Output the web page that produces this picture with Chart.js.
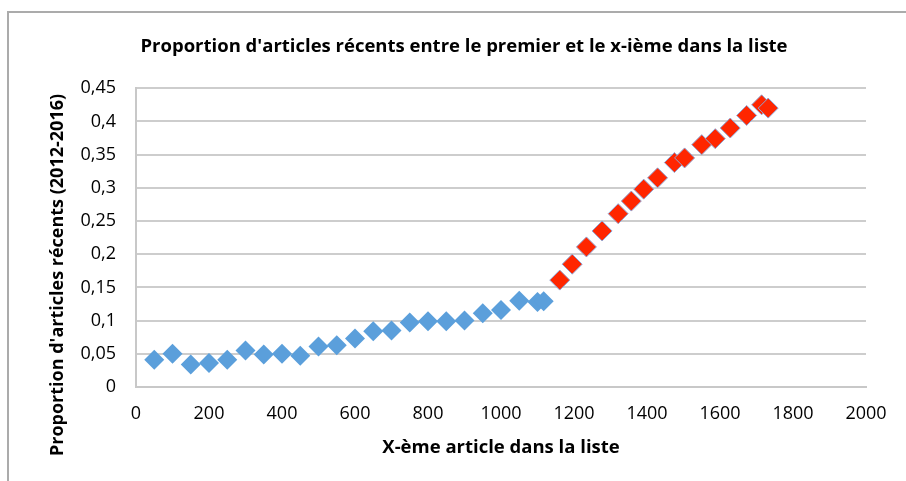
<!DOCTYPE html>
<html>
<head>
<meta charset="utf-8">
<script src="https://cdn.jsdelivr.net/npm/chart.js@4"></script>
<style>
  body { margin: 0; background: #fff; }
  #wrap { width: 906px; height: 481px; }
</style>
</head>
<body>
<div id="wrap"><canvas id="myChart" width="906" height="481"></canvas></div>
<script>
// X position in the list and share of recent articles (2012-2016)
const blueX = [50, 100, 150, 200, 250, 300, 350, 400, 450, 500, 550, 600, 650, 700, 750, 800, 850, 900, 950, 1000, 1050, 1100, 1117];
const blueY = [0.041, 0.050, 0.034, 0.036, 0.041, 0.055, 0.049, 0.050, 0.047, 0.061, 0.063, 0.073, 0.084, 0.085, 0.097, 0.099, 0.099, 0.100, 0.111, 0.116, 0.130, 0.128, 0.129];

const redX = [1161, 1195, 1234, 1277, 1321, 1357, 1391, 1429, 1475, 1503, 1550, 1587, 1628, 1673, 1714, 1732];
const redY = [0.161, 0.185, 0.211, 0.235, 0.261, 0.280, 0.298, 0.315, 0.338, 0.345, 0.365, 0.374, 0.390, 0.409, 0.425, 0.420];

const yTickLabels = ['0', '0,05', '0,1', '0,15', '0,2', '0,25', '0,3', '0,35', '0,4', '0,45'];

const yTitle = "Proportion d'articles récents (2012-2016)";

const toPoints = (xs, ys) => xs.map((x, i) => ({ x: x, y: ys[i] }));

const font = "'Open Sans', sans-serif";

// gray frame around the chart (only top and left edges are visible)
// + the y axis title, which sits a bit lower than the plot centre
const extrasPlugin = {
  id: 'extras',
  beforeDraw(chart) {
    const ctx = chart.ctx;
    ctx.save();
    ctx.strokeStyle = '#ababab';
    ctx.lineWidth = 2;
    ctx.beginPath();
    ctx.moveTo(8, 490);
    ctx.lineTo(8, 12);
    ctx.lineTo(920, 12);
    ctx.stroke();
    ctx.restore();
  },
  afterDraw(chart) {
    const ctx = chart.ctx;
    ctx.save();
    ctx.translate(58, 275);
    ctx.rotate(-Math.PI / 2);
    ctx.font = 'bold 18px ' + font;
    ctx.fillStyle = '#000';
    ctx.textAlign = 'center';
    ctx.textBaseline = 'middle';
    ctx.fillText(yTitle, 0, 0);
    ctx.restore();
  }
};

new Chart(document.getElementById('myChart'), {
  type: 'scatter',
  data: {
    datasets: [
      {
        data: toPoints(blueX, blueY),
        pointStyle: 'rectRot',
        pointRadius: 10,
        backgroundColor: '#5b9fdb',
        borderWidth: 0
      },
      {
        data: toPoints(redX, redY),
        pointStyle: 'rectRot',
        pointRadius: 10,
        backgroundColor: '#ff2600',
        borderColor: '#8fa6d6',
        borderWidth: 1
      }
    ]
  },
  options: {
    responsive: false,
    animation: false,
    layout: { padding: { left: 62, right: 40, top: 0, bottom: 0 } },
    plugins: {
      legend: { display: false },
      tooltip: { enabled: false },
      title: {
        display: true,
        text: "Proportion d'articles récents entre le premier et le x-ième dans la liste",
        color: '#000',
        font: { family: font, size: 18.5, weight: 'bold' },
        padding: { top: 36, bottom: 30 }
      }
    },
    scales: {
      x: {
        type: 'linear',
        min: 0,
        max: 2000,
        afterFit: (scale) => { scale.height = 94; },
        grid: { display: false },
        border: { display: true, color: '#c8c8c8', width: 2 },
        ticks: {
          stepSize: 200,
          padding: 8,
          color: '#000',
          font: { family: font, size: 18 },
          callback: (v) => String(v)
        },
        title: {
          display: true,
          text: 'X-ème article dans la liste',
          color: '#000',
          font: { family: font, size: 18.5, weight: 'bold' },
          padding: { top: 0, bottom: 22 }
        }
      },
      y: {
        min: 0,
        max: 0.45,
        afterFit: (scale) => { scale.width = 74; },
        grid: { color: '#cdcdcd', lineWidth: 2, drawTicks: false },
        border: { display: true, color: '#c8c8c8', width: 2 },
        ticks: {
          stepSize: 0.05,
          padding: 20,
          color: '#000',
          font: { family: font, size: 18 },
          callback: (v, i) => yTickLabels[i]
        }
      }
    }
  },
  plugins: [extrasPlugin]
});
</script>
</body>
</html>
